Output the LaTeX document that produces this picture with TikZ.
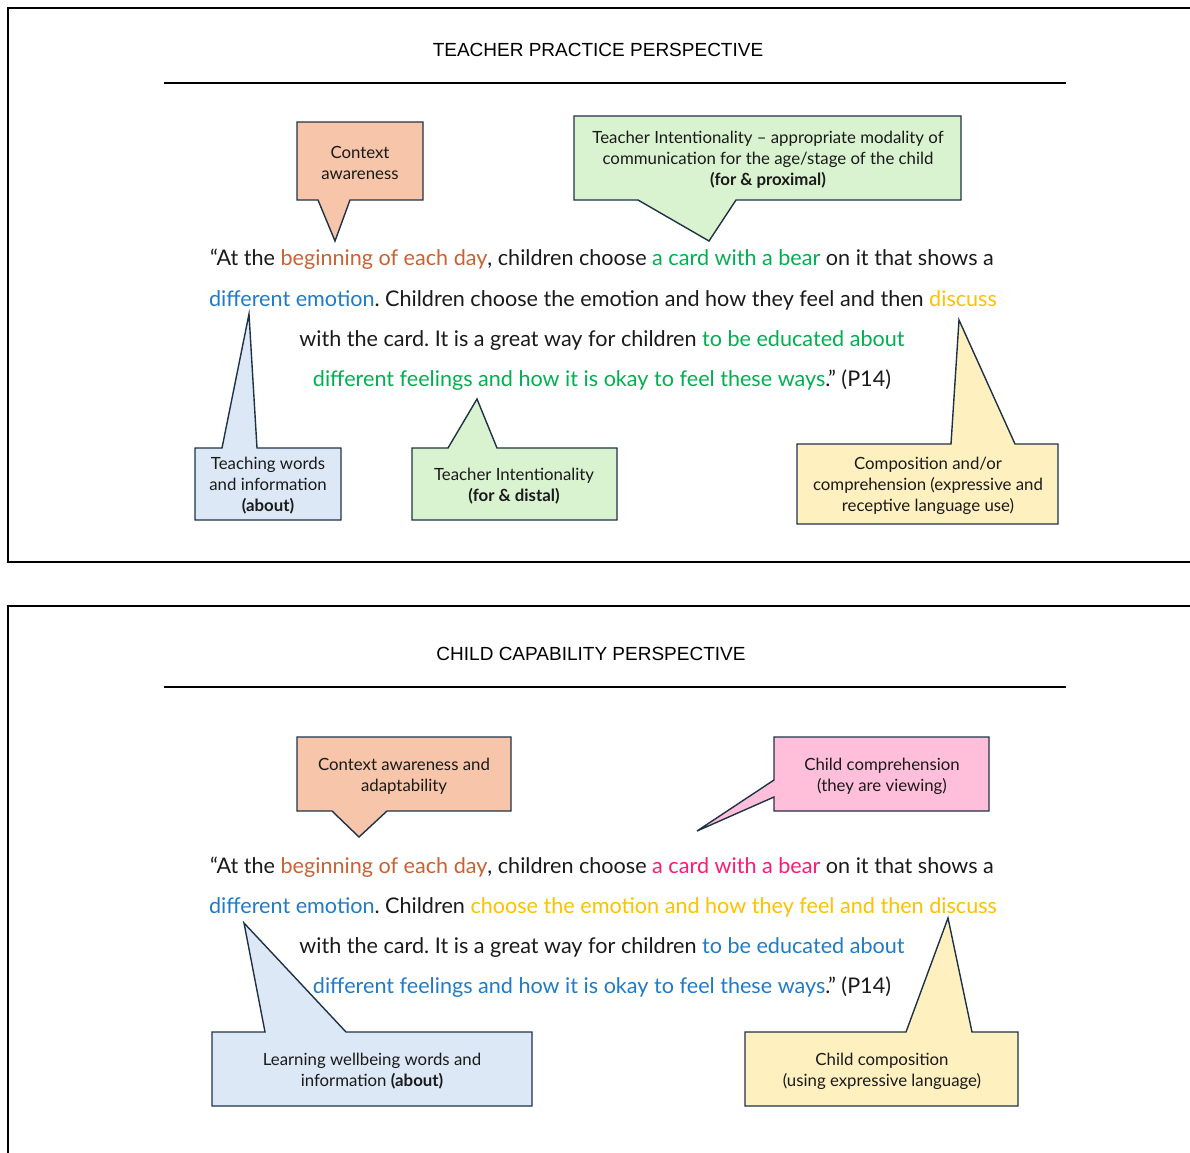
\documentclass[tikz,border=0pt]{standalone}
\usepackage{fontspec}
\setmainfont{Lato}
\newfontfamily\titlefont{Liberation Sans}
\frenchspacing
\definecolor{salmonfill}{HTML}{F6C5AA}
\definecolor{greenfill}{HTML}{D9F2D0}
\definecolor{bluefill}{HTML}{DCE8F5}
\definecolor{yellowfill}{HTML}{FFF0C0}
\definecolor{pinkfill}{HTML}{FFBFDA}
\definecolor{outl}{HTML}{1E3246}
\definecolor{torange}{HTML}{C96230}
\definecolor{tgreen}{HTML}{00B050}
\definecolor{tblue}{HTML}{1F7BC8}
\definecolor{tyellow}{HTML}{FFC000}
\definecolor{tpink}{HTML}{FF1A75}
\definecolor{tblack}{HTML}{1A1A1A}
\begin{document}
\begin{tikzpicture}[x=1bp,y=-1bp,
  callout/.style={draw=outl,line width=1.4bp,line join=miter},
  calltext/.style={align=center,font=\fontsize{16.8bp}{21bp}\selectfont,text=tblack,inner sep=0pt},
  quote/.style={anchor=mid,font=\fontsize{21.6bp}{26bp}\selectfont,text=tblack,inner sep=0pt},
  ttl/.style={font=\titlefont\fontsize{19bp}{22bp}\selectfont,text=black,inner sep=0pt},
  frame/.style={draw=black,line width=1.4bp},
  rule/.style={draw=black,line width=1.4bp}]
\useasboundingbox (0,0) rectangle (1190,1153);
\begin{scope}
\clip (0,0) rectangle (1190,1153);
\draw[frame] (8,8) rectangle (1200,562);
\draw[frame] (8,606) rectangle (1200,1170);
\end{scope}
% ---------- TOP PANEL ----------
\node[ttl] (t1) at (598,50) {TEACHER PRACTICE PERSPECTIVE};
\coordinate (r1a) at (164,83); \coordinate (r1b) at (1066,83);
\draw[rule] (r1a) -- (r1b);
% callouts
\filldraw[callout,fill=salmonfill] (297,122) -- (423,122) -- (423,200) -- (350,200) -- (335,241) -- (318,200) -- (297,200) -- cycle;
\node[calltext] (c1) at (360,163) {Context\\awareness};

\filldraw[callout,fill=greenfill] (574,116) -- (961,116) -- (961,200) -- (736,200) -- (709,241) -- (638,200) -- (574,200) -- cycle;
\node[calltext] (c2) at (768,160) {Teacher Intentionality -- appropriate modality of\\communication for the age/stage of the child\\\textbf{(for \& proximal)}};

\filldraw[callout,fill=bluefill] (195,448) -- (222,448) -- (249,314) -- (257,448) -- (341,448) -- (341,520) -- (195,520) -- cycle;
\node[calltext] (c3) at (268,486) {Teaching words\\and information\\\textbf{(about)}};

\filldraw[callout,fill=greenfill] (412,448) -- (448,448) -- (477,399) -- (497,448) -- (617,448) -- (617,520) -- (412,520) -- cycle;
\node[calltext] (c4) at (514,486) {Teacher Intentionality\\\textbf{(for \& distal)}};

\filldraw[callout,fill=yellowfill] (797,444) -- (951,444) -- (959,320) -- (1015,444) -- (1058,444) -- (1058,524) -- (797,524) -- cycle;
\node[calltext] (c5) at (928,486) {Composition and/or\\comprehension (expressive and\\receptive language use)};

% quote
\node[quote] (q1) at (602,263) {``At the \textcolor{torange}{beginning of each day}, children choose \textcolor{tgreen}{a card with a bear} on it that shows a};
\node[quote] (q2) at (603,304) {\textcolor{tblue}{different emotion}. Children choose the emotion and how they feel and then \textcolor{tyellow}{discuss}};
\node[quote] (q3) at (602,344) {with the card. It is a great way for children \textcolor{tgreen}{to be educated about}};
\node[quote] (q4) at (602,384) {\textcolor{tgreen}{different feelings and how it is okay to feel these ways}.'' (P14)};

% ---------- BOTTOM PANEL ----------
\node[ttl] (t2) at (591,654) {CHILD CAPABILITY PERSPECTIVE};
\coordinate (r2a) at (164,687); \coordinate (r2b) at (1066,687);
\draw[rule] (r2a) -- (r2b);

\filldraw[callout,fill=salmonfill] (297,737) -- (511,737) -- (511,811) -- (387,811) -- (359,837) -- (332,811) -- (297,811) -- cycle;
\node[calltext] (d1) at (404,776) {Context awareness and\\adaptability};

\filldraw[callout,fill=pinkfill] (774,737) -- (989,737) -- (989,811) -- (774,811) -- (774,797) -- (697,831) -- (774,780) -- cycle;
\node[calltext] (d2) at (882,776) {Child comprehension\\(they are viewing)};

\filldraw[callout,fill=bluefill] (212,1032) -- (265,1032) -- (244,923) -- (346,1032) -- (532,1032) -- (532,1106) -- (212,1106) -- cycle;
\node[calltext] (d3) at (372,1071) {Learning wellbeing words and\\information \textbf{(about)}};

\filldraw[callout,fill=yellowfill] (745,1032) -- (906,1032) -- (948,918) -- (972,1032) -- (1018,1032) -- (1018,1106) -- (745,1106) -- cycle;
\node[calltext] (d4) at (882,1071) {Child composition\\(using expressive language)};

\node[quote] (p1) at (602,871) {``At the \textcolor{torange}{beginning of each day}, children choose \textcolor{tpink}{a card with a bear} on it that shows a};
\node[quote] (p2) at (603,911) {\textcolor{tblue}{different emotion}. Children \textcolor{tyellow}{choose the emotion and how they feel and then discuss}};
\node[quote] (p3) at (602,951) {with the card. It is a great way for children \textcolor{tblue}{to be educated about}};
\node[quote] (p4) at (602,991) {\textcolor{tblue}{different feelings and how it is okay to feel these ways}.'' (P14)};
\end{tikzpicture}
\end{document}
